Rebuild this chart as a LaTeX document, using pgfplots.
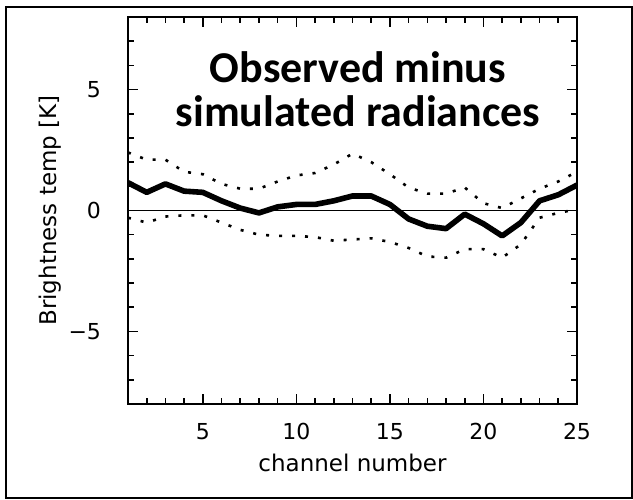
\documentclass[border=0pt]{standalone}
\usepackage{pgfplots}
\pgfplotsset{compat=1.18}
\usepackage{pgfplotstable}
\usepackage{fontspec}
\setmainfont{DejaVu Sans}
\newfontfamily\titlefont{Carlito}
\pgfplotstableread{
c mean upper lower
1 1.15 2.4 -0.3
2 0.75 2.1 -0.5
3 1.1 2.1 -0.25
4 0.8 1.6 -0.2
5 0.75 1.5 -0.2
6 0.4 1.1 -0.5
7 0.1 0.9 -0.8
8 -0.1 0.9 -1.0
9 0.15 1.2 -1.05
10 0.25 1.45 -1.05
11 0.25 1.55 -1.1
12 0.4 1.9 -1.25
13 0.6 2.35 -1.2
14 0.6 2.0 -1.15
15 0.25 1.5 -1.3
16 -0.35 0.95 -1.55
17 -0.65 0.7 -1.9
18 -0.75 0.7 -1.95
19 -0.15 0.95 -1.6
20 -0.55 0.3 -1.6
21 -1.05 0.1 -1.95
22 -0.5 0.5 -1.4
23 0.4 0.9 -0.3
24 0.65 1.2 -0.1
25 1.05 1.6 0.05
}\datatable
\begin{document}
\begin{tikzpicture}
\useasboundingbox (0,0) rectangle (316.5pt,249.5pt);
\draw[line width=0.8pt] (3pt,0.4pt) rectangle (316.1pt,246pt);
\begin{axis}[
  at={(64pt,47.5pt)}, anchor=south west,
  scale only axis, width=224.5pt, height=193.5pt,
  xmin=1, xmax=25, ymin=-8, ymax=8,
  xtick={5,10,15,20,25},
  minor xtick={1,...,25},
  ytick={-5,0,5},
  yticklabels={−5,0,5},
  minor ytick={-8,...,8},
  axis line style={line width=1pt},
  every tick/.style={black, line width=0.8pt},
  tick align=inside,
  major tick length=5pt, minor tick length=3pt,
  /pgf/number format/assume math mode=true,
  ticklabel style={font=\fontsize{11}{13}\selectfont},
  xticklabel style={yshift=-6pt},
  yticklabel style={xshift=-10pt},
  xlabel={channel number},
  ylabel={Brightness temp [K]},
  label style={font=\fontsize{11.5}{13}\selectfont},
  xlabel style={at={(axis description cs:0.5,-0.152)}, anchor=center},
  ylabel style={at={(axis description cs:-0.174,0.5)}, anchor=center},
  clip=true,
]
\addplot[black, line width=0.8pt, forget plot] coordinates {(1,0) (25,0)};
\addplot[black, line width=2.8pt, line join=round] table[x=c, y=mean] {\datatable};
\addplot[black, line width=1.3pt, dash pattern=on 1.5pt off 5pt] table[x=c, y=upper] {\datatable};
\addplot[black, line width=1.3pt, dash pattern=on 1.5pt off 5pt] table[x=c, y=lower] {\datatable};
\end{axis}
\node[align=center, font=\titlefont\bfseries\fontsize{22}{22}\selectfont] at (179pt,205pt) {Observed minus\\simulated radiances};
\end{tikzpicture}
\end{document}
